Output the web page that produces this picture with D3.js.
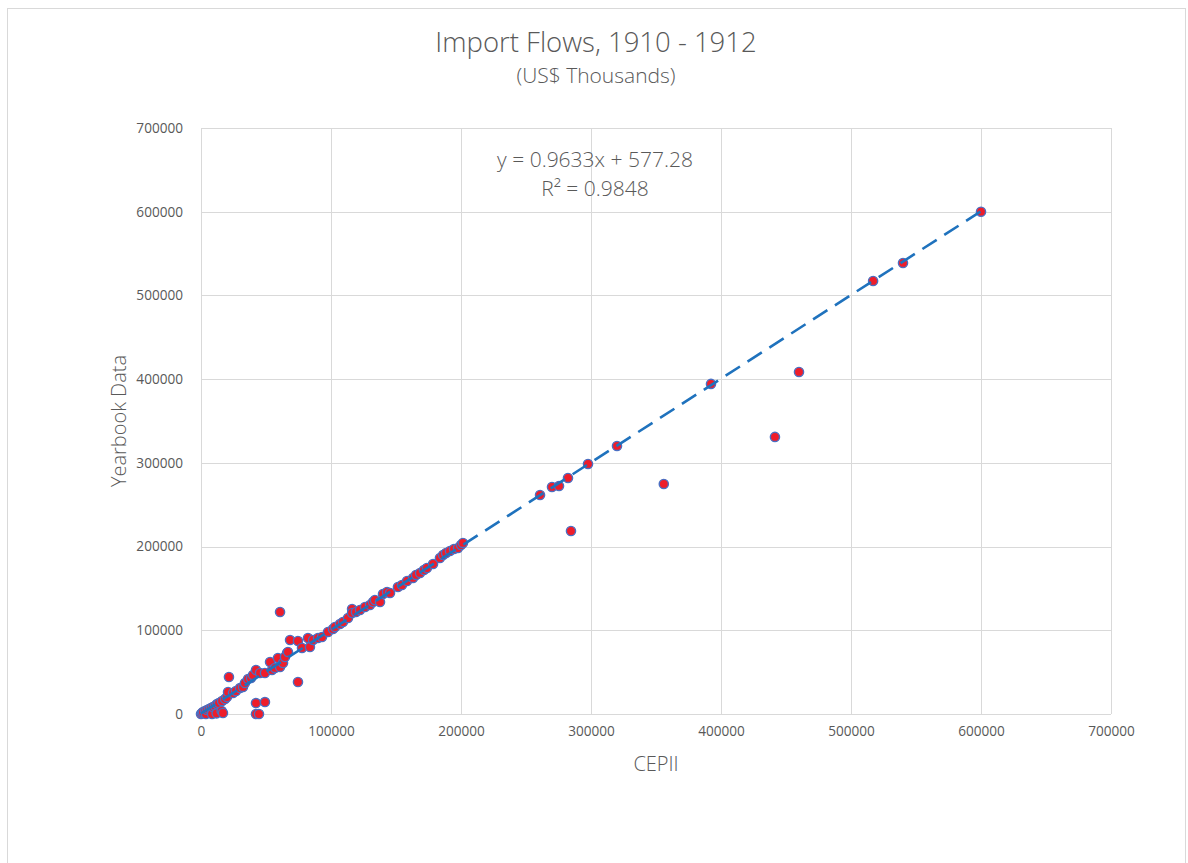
<!DOCTYPE html>
<html>
<head>
<meta charset="utf-8">
<script src="https://cdn.jsdelivr.net/npm/d3@7"></script>
<style>
  body { margin: 0; background: #fff; }
  svg text { font-family: "Open Sans", "Noto Sans", sans-serif; fill: #595959; }
</style>
</head>
<body>
<div id="chart"></div>
<script>
// CEPII vs Yearbook import flows (US$ thousands)
const cepii = [
  0, 800, 1500, 3100, 3800, 4600, 6200, 7700, 8500, 9200, 10800, 12000, 12300, 13800, 15900, 16900,
  16200, 18500, 20000, 20800, 21500, 24600, 26900, 30000, 32300, 33800, 36200, 38500, 40000, 42300,
  42300, 49200, 42300, 44600, 45400, 49200, 53100, 54600, 56900, 59200, 60800, 63100, 66200, 64600,
  68500, 66900, 60800, 74600, 74600, 77700, 82300, 83800, 86200, 90000, 93100, 97700, 101500, 103100,
  106900, 109200, 113100, 116200, 116200, 119200, 122300, 126200, 130000, 132300, 133800, 137700, 140000,
  143100, 145400, 151500, 154600, 158500, 163100, 165400, 168500, 171500, 173800, 178500, 183800, 186200,
  188500, 191500, 194600, 197700, 200000, 201500,
  260800, 270000, 275400, 282300, 284600, 297700, 320000, 356000, 392300, 441500, 460000, 517000, 540000, 600000
];
const yearbook = [
  0, 1200, 2400, 3600, 0, 4800, 6000, 7200, 0, 8400, 9600, 800, 11900, 13100, 3600, 1200,
  15500, 17900, 20300, 26300, 44200, 25100, 27500, 31000, 32300, 37000, 41800, 43000, 46600, 52600,
  13100, 14300, 0, 0, 49000, 49000, 62100, 52600, 55000, 66900, 56200, 60900, 72900, 68100,
  88400, 74100, 121900, 38200, 87200, 78900, 90800, 80000, 88400, 90800, 92000, 98000, 101600, 103900,
  107500, 109900, 114700, 125400, 120700, 121900, 124300, 127800, 130200, 133800, 136200, 133800, 143400,
  145800, 144600, 151700, 154100, 158900, 162500, 166100, 168500, 172000, 174400, 179200, 186400, 190000,
  192400, 194700, 197100, 198300, 201900, 204300,
  261600, 271200, 272400, 282000, 218600, 298700, 320200, 274800, 394300, 331000, 408600, 517300, 538800, 600000
];
const xTicks = [0, 100000, 200000, 300000, 400000, 500000, 600000, 700000];
const yTicks = [0, 100000, 200000, 300000, 400000, 500000, 600000, 700000];
// linear trendline as drawn (start and end of the dashed line)
const trendX = [0, 600000];
const trendY = [577.28, 600500];
const equationText = "y = 0.9633x + 577.28";
const rSquaredText = "R² = 0.9848";

const width = 1188, height = 863;
const margin = { left: 201, right: 77, top: 128, bottom: 149 };
const svg = d3.select("#chart").append("svg")
  .attr("width", width).attr("height", height);

// chart area border
svg.append("rect")
  .attr("x", 7.5).attr("y", 8.5)
  .attr("width", 1178).attr("height", 870)
  .attr("fill", "#fff").attr("stroke", "#d9d9d9");

const x = d3.scaleLinear().domain([0, 700000]).range([margin.left, width - margin.right]);
const y = d3.scaleLinear().domain([0, 700000]).range([height - margin.bottom, margin.top]);

// gridlines
svg.append("g").selectAll("line").data(xTicks).join("line")
  .attr("x1", d => Math.round(x(d)) + 0.5).attr("x2", d => Math.round(x(d)) + 0.5)
  .attr("y1", y(0)).attr("y2", y(700000))
  .attr("stroke", "#d9d9d9");
svg.append("g").selectAll("line").data(yTicks).join("line")
  .attr("y1", d => Math.round(y(d)) + 0.5).attr("y2", d => Math.round(y(d)) + 0.5)
  .attr("x1", x(0)).attr("x2", x(700000))
  .attr("stroke", "#d9d9d9");

// axes (labels only, Excel style)
const xAxis = svg.append("g")
  .attr("transform", "translate(0," + (y(0) + 9) + ")")
  .call(d3.axisBottom(x).tickValues(xTicks).tickSize(0).tickFormat(d3.format("d")));
const yAxis = svg.append("g")
  .attr("transform", "translate(" + (x(0) - 15) + ",0)")
  .call(d3.axisLeft(y).tickValues(yTicks).tickSize(0).tickFormat(d3.format("d")));
[xAxis, yAxis].forEach(a => {
  a.select(".domain").remove();
  a.selectAll("text").style("font-family", '"Open Sans", sans-serif')
    .style("font-size", "13.6px").attr("fill", "#595959");
});

// points
const pts = cepii.map((c, i) => ({ x: c, y: yearbook[i] }));
svg.append("g").selectAll("circle").data(pts).join("circle")
  .attr("cx", d => x(d.x)).attr("cy", d => y(d.y))
  .attr("r", 4.6)
  .attr("fill", "#ee1d2a")
  .attr("stroke", "#4a6fc3")
  .attr("stroke-width", 1.4);

// trendline
svg.append("path")
  .datum(trendX.map((v, i) => ({ x: v, y: trendY[i] })))
  .attr("d", d3.line().x(d => x(d.x)).y(d => y(d.y)))
  .attr("fill", "none")
  .attr("stroke", "#1f72bd")
  .attr("stroke-width", 2.6)
  .attr("stroke-dasharray", "17,9");

// titles
svg.append("text").attr("x", 596).attr("y", 52).attr("text-anchor", "middle")
  .style("font-size", "27.5px").style("font-weight", 300).text("Import Flows, 1910 - 1912");
svg.append("text").attr("x", 596).attr("y", 83).attr("text-anchor", "middle")
  .style("font-size", "21px").style("font-weight", 300).text("(US$ Thousands)");

// trendline label
svg.append("text").attr("x", 595).attr("y", 167).attr("text-anchor", "middle")
  .style("font-size", "21px").style("font-weight", 300).text(equationText);
svg.append("text").attr("x", 595).attr("y", 196).attr("text-anchor", "middle")
  .style("font-size", "21px").style("font-weight", 300).text(rSquaredText);

// axis titles
svg.append("text").attr("x", (x(0) + x(700000)) / 2).attr("y", 771).attr("text-anchor", "middle")
  .style("font-size", "20px").style("font-weight", 300).text("CEPII");
svg.append("text")
  .attr("transform", "translate(126," + (y(0) + y(700000)) / 2 + ") rotate(-90)")
  .attr("text-anchor", "middle")
  .style("font-size", "20px").style("font-weight", 300).text("Yearbook Data");
</script>
</body>
</html>
